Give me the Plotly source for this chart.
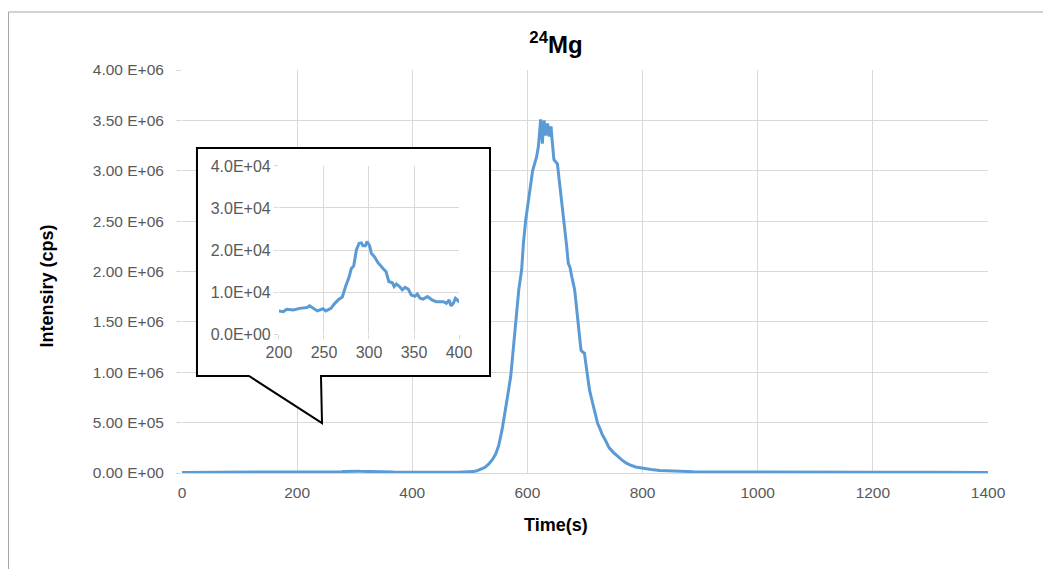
import plotly.graph_objects as go

# ---- data ----
time_s = [0, 20, 50, 80, 100, 130, 150, 180, 200, 204.8, 208.5, 216, 223, 231, 234, 238, 242.6, 249, 252,
          257.8, 262, 266.7, 270.4, 274, 277.8, 280.4, 283, 286, 289, 291.5, 293.3, 296, 297.8, 300.7,
          302.6, 306, 310, 315.6, 319, 322, 326, 328, 330.4, 334, 337, 340, 343.5, 347, 351, 353.7,
          356.7, 360, 365, 370, 374.6, 382.7, 386, 389, 391, 393.6, 396, 399, 400, 420, 450, 480, 495,
          506, 512, 518, 526, 533, 540, 545, 550, 556, 561, 566, 571, 576, 580, 585, 590, 593, 597, 601,
          604, 609, 613, 616, 619, 621, 623, 624.5, 626, 627.5, 629, 630.5, 632, 633.5, 635, 636.5, 638,
          639.5, 641, 643, 646, 649, 652, 655, 658, 661, 665, 668, 671, 674, 677, 680, 682, 685, 687,
          690, 693, 696, 699, 703, 708, 713, 718, 722, 726, 730, 735, 742, 750, 757, 764, 771, 778,
          788, 800, 815, 830, 850, 888, 950, 1000, 1100, 1200, 1300, 1400]
intensity_cps = [5.0e3, 5.5e3, 5.2e3, 5.6e3, 5.4e3, 5.8e3, 5.4e3, 5.6e3, 5.5e3, 5.3e3, 5.9e3, 5.7e3,
                 6.1e3, 6.3e3, 6.7e3, 6.1e3, 5.5e3, 6.0e3, 5.5e3, 6.1e3, 7.3e3, 8.3e3, 8.8e3, 11.3e3,
                 13.5e3, 15.6e3, 16.2e3, 20.0e3, 21.6e3, 21.7e3, 21.0e3, 21.0e3, 22.0e3, 21.0e3, 19.2e3,
                 18.4e3, 17.0e3, 15.6e3, 14.8e3, 12.5e3, 12.2e3, 11.3e3, 11.9e3, 11.3e3, 10.5e3, 11.1e3,
                 10.7e3, 9.3e3, 9.0e3, 9.5e3, 8.5e3, 8.3e3, 8.9e3, 8.1e3, 7.7e3, 7.7e3, 7.3e3, 8.1e3,
                 6.7e3, 7.3e3, 8.5e3, 7.9e3, 7.7e3, 7.2e3, 6.8e3, 7.5e3, 9.5e3, 1.4e4, 2.2e4, 3.5e4,
                 5.5e4, 9.0e4, 1.4e5, 1.9e5, 2.7e5, 4.3e5, 6.3e5, 7.8e5, 9.6e5, 1.25e6, 1.49e6, 1.82e6,
                 2.02e6, 2.28e6, 2.51e6, 2.66e6, 2.81e6, 3.0e6, 3.08e6, 3.14e6, 3.24e6, 3.36e6, 3.51e6,
                 3.40e6, 3.27e6, 3.44e6, 3.50e6, 3.41e6, 3.35e6, 3.42e6, 3.47e6, 3.40e6, 3.34e6, 3.40e6,
                 3.44e6, 3.30e6, 3.11e6, 3.09e6, 3.07e6, 2.92e6, 2.78e6, 2.62e6, 2.44e6, 2.26e6, 2.08e6,
                 2.04e6, 1.95e6, 1.86e6, 1.82e6, 1.66e6, 1.55e6, 1.40e6, 1.22e6, 1.20e6, 1.19e6, 1.02e6,
                 0.82e6, 0.70e6, 0.58e6, 0.49e6, 0.44e6, 0.38e6, 0.33e6, 0.25e6, 0.20e6, 0.16e6, 0.13e6,
                 0.10e6, 0.08e6, 0.06e6, 0.047e6, 0.035e6, 0.026e6, 0.02e6, 0.013e6, 0.011e6, 0.009e6,
                 0.008e6, 0.007e6, 0.0065e6, 0.006e6]

main_yticks = [0, 0.5e6, 1.0e6, 1.5e6, 2.0e6, 2.5e6, 3.0e6, 3.5e6, 4.0e6]
main_yticktext = ["0.00 E+00", "5.00 E+05", "1.00 E+06", "1.50 E+06", "2.00 E+06",
                  "2.50 E+06", "3.00 E+06", "3.50 E+06", "4.00 E+06"]
main_xticks = [0, 200, 400, 600, 800, 1000, 1200, 1400]
inset_yticks = [0, 1e4, 2e4, 3e4, 4e4]
inset_yticktext = ["0.0E+00", "1.0E+04", "2.0E+04", "3.0E+04", "4.0E+04"]
inset_xticks = [200, 250, 300, 350, 400]

LINE = "#5B9BD5"
GRID = "#D9D9D9"
FAM = "Liberation Sans, Arial, sans-serif"
TICKF = dict(family=FAM, size=15.5, color="#595959")
INSETF = dict(family=FAM, size=16, color="#595959")

fig = go.Figure()
fig.add_trace(go.Scatter(x=time_s, y=intensity_cps, mode="lines",
                         line=dict(color=LINE, width=3), xaxis="x", yaxis="y",
                         showlegend=False, hoverinfo="skip"))
fig.add_trace(go.Scatter(x=time_s, y=intensity_cps, mode="lines",
                         line=dict(color=LINE, width=3), xaxis="x2", yaxis="y2",
                         showlegend=False, hoverinfo="skip"))

# callout box (decoration) in main-axis coordinates
bx0, bx1, by0, by1 = 26.0, 535.0, 0.963e6, 3.226e6
tl, tr, tipx, tipy = 116.4, 241.4, 243.2, 0.496e6
path = (f"M {bx0},{by1} L {bx1},{by1} L {bx1},{by0} L {tr},{by0} L {tipx},{tipy} "
        f"L {tl},{by0} L {bx0},{by0} Z")

# page has an 8px body margin: figure is placed at (8, 8)
fig.update_layout(
    width=1043, height=561,
    margin=dict(l=174, r=63, t=62, b=96),
    paper_bgcolor="white", plot_bgcolor="rgba(0,0,0,0)",
    title=dict(text="<b><sup>24</sup>Mg</b>", x=0.464, xref="paper", xanchor="center",
               y=1 - 37 / 561, yref="container", yanchor="middle",
               font=dict(family=FAM, size=24, color="black")),
    xaxis=dict(domain=[0, 1], range=[0, 1400], tickvals=main_xticks, showgrid=True,
               gridcolor=GRID, gridwidth=1, zeroline=False, showline=True, linecolor=GRID,
               ticks="outside", ticklen=5, tickcolor="rgba(0,0,0,0)", tickfont=TICKF),
    yaxis=dict(domain=[0, 1], range=[0, 4.0e6], tickvals=main_yticks, ticktext=main_yticktext,
               showgrid=True, gridcolor=GRID, gridwidth=1, zeroline=False, showline=False,
               ticks="outside", ticklen=5, tickcolor=GRID, tickfont=TICKF,
               ticklabelstandoff=9),
    xaxis2=dict(domain=[0.1203, 0.3437], anchor="y2", range=[200, 400], tickvals=inset_xticks,
                showgrid=True, gridcolor=GRID, zeroline=False, showline=False,
                ticks="outside", ticklen=4, tickcolor=GRID, tickfont=INSETF),
    yaxis2=dict(domain=[0.3449, 0.7618], anchor="x2", range=[0, 4e4], tickvals=inset_yticks,
                ticktext=inset_yticktext, showgrid=True, gridcolor=GRID, zeroline=False,
                showline=False, ticks="outside", ticklen=4, tickcolor=GRID, tickfont=INSETF),
    shapes=[
        dict(type="path", path=path, xref="x", yref="y", layer="between",
             fillcolor="white", line=dict(color="black", width=2)),
        dict(type="rect", xref="paper", yref="paper", x0=(8.5 - 182) / 806, x1=1.09,
             y0=-0.27, y1=(473 - 12) / 403,
             line=dict(color="#A6A6A6", width=1), fillcolor="rgba(0,0,0,0)", layer="below"),
    ],
    annotations=[
        dict(text="<b>Time(s)</b>", x=0.464, y=(473 - 525) / 403, xref="paper", yref="paper",
             showarrow=False, xanchor="center", yanchor="middle",
             font=dict(family=FAM, size=18, color="black")),
        dict(text="<b>Intensiry (cps)</b>", x=(46.5 - 182) / 806, y=(473 - 286) / 403,
             xref="paper", yref="paper",
             showarrow=False, textangle=-90, xanchor="center", yanchor="middle",
             font=dict(family=FAM, size=18, color="black")),
    ],
)

fig.write_html("out.html")
